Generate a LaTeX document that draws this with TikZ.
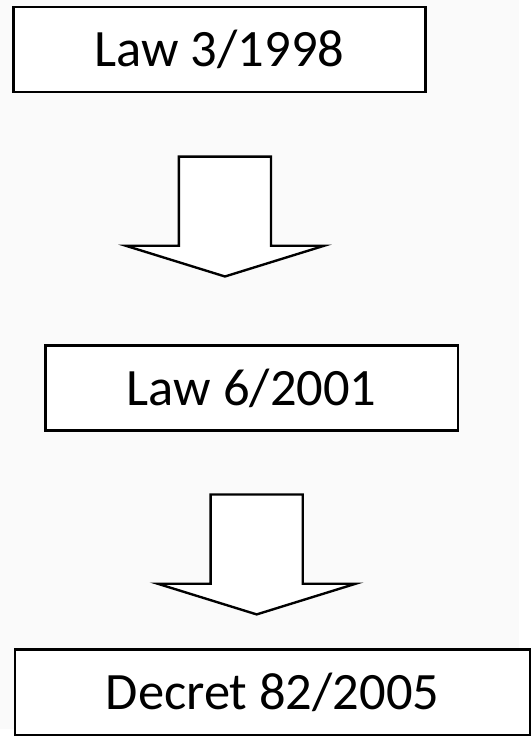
\documentclass[tikz,border=0pt]{standalone}
\usepackage{fontspec}
\setmainfont{Carlito}
\begin{document}
\begin{tikzpicture}[x=1pt,y=-1pt]
    % styles
    \tikzset{
        lawbox/.style={rectangle, draw=black, line width=2.4pt, fill=white, minimum width=416pt, minimum height=86pt, inner sep=0pt, font=\fontsize{53}{60}\selectfont},
        blockarrow/.style={draw=black, line width=2.4pt, fill=white, line join=miter},
    }

    % background
    \fill[black!2] (0,0) rectangle (524,736);

    % boxes
    \node[lawbox] (law1998) at (221.5,50) {Law 3/1998};
    \node[lawbox] (law2001) at (254,391.5) {Law 6/2001};
    \node[lawbox, minimum width=520pt] (decret2005) at (275,698.5) {Decret 82/2005};

    % block arrows: centre x / top of shaft y
    \foreach \cx/\ty in {227/158, 259/499} {
        \draw[blockarrow] (\cx-46.5,\ty) -- (\cx+46.5,\ty) -- (\cx+46.5,\ty+90) -- (\cx+100,\ty+90)
            -- (\cx,\ty+121) -- (\cx-100,\ty+90) -- (\cx-46.5,\ty+90) -- cycle;
    }

    \path[use as bounding box] (0,0) rectangle (524,736);
\end{tikzpicture}
\end{document}
